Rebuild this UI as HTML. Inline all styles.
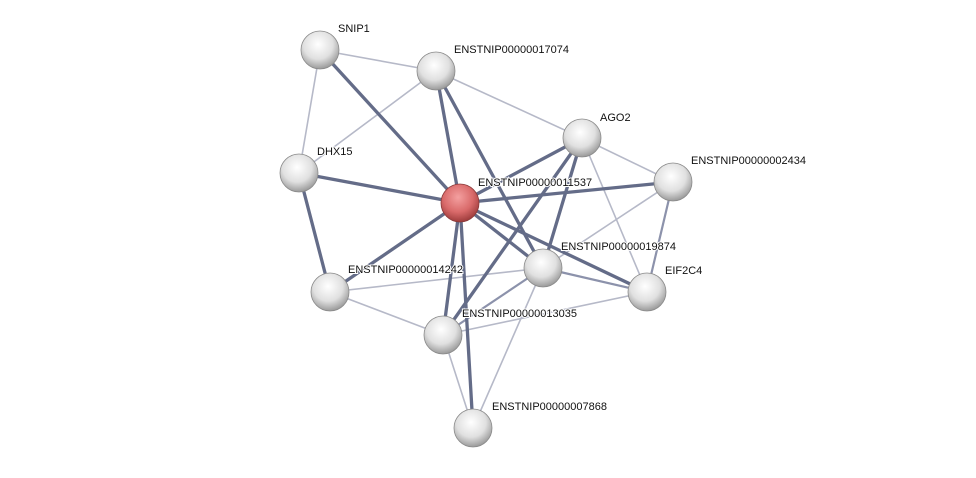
<!DOCTYPE html>
<html><head><meta charset="utf-8"><style>
html,body{margin:0;padding:0;background:#fff;}
svg text{font-family:"Liberation Sans",sans-serif;font-size:11px;fill:#111;paint-order:stroke;stroke:#fff;stroke-width:2px;}
</style></head><body>
<svg width="976" height="473" viewBox="0 0 976 473" xmlns="http://www.w3.org/2000/svg">
<defs>
<radialGradient id="g" cx="45%" cy="35%" r="65%">
<stop offset="0" stop-color="#ffffff"/><stop offset="0.6" stop-color="#e0e0e0"/><stop offset="1" stop-color="#9a9a9a"/>
</radialGradient>
<radialGradient id="r" cx="45%" cy="35%" r="65%">
<stop offset="0" stop-color="#f4a0a0"/><stop offset="0.6" stop-color="#d96a6a"/><stop offset="1" stop-color="#9e3c3c"/>
</radialGradient>
</defs>
<g stroke-linecap="round">
<g stroke="#b6b9c8" stroke-width="1.6">
<line x1="320" y1="50" x2="436" y2="71"/>
<line x1="320" y1="50" x2="299" y2="173"/>
<line x1="299" y1="173" x2="436" y2="71"/>
<line x1="436" y1="71" x2="582" y2="138"/>
<line x1="582" y1="138" x2="673" y2="182"/>
<line x1="582" y1="138" x2="647" y2="292"/>
<line x1="673" y1="182" x2="543" y2="268"/>
<line x1="330" y1="292" x2="543" y2="268"/>
<line x1="330" y1="292" x2="443" y2="335"/>
<line x1="443" y1="335" x2="647" y2="292"/>
<line x1="543" y1="268" x2="473" y2="428"/>
<line x1="443" y1="335" x2="473" y2="428"/>
</g>
<g stroke="#8c92ab" stroke-width="2.2">
<line x1="543" y1="268" x2="647" y2="292"/>
<line x1="543" y1="268" x2="443" y2="335"/>
<line x1="673" y1="182" x2="647" y2="292"/>
</g>
<g stroke="#646c88" stroke-width="3.3">
<line x1="320" y1="50" x2="460" y2="203"/>
<line x1="299" y1="173" x2="460" y2="203"/>
<line x1="436" y1="71" x2="460" y2="203"/>
<line x1="330" y1="292" x2="460" y2="203"/>
<line x1="443" y1="335" x2="460" y2="203"/>
<line x1="473" y1="428" x2="460" y2="203"/>
<line x1="543" y1="268" x2="460" y2="203"/>
<line x1="647" y1="292" x2="460" y2="203"/>
<line x1="582" y1="138" x2="460" y2="203"/>
<line x1="673" y1="182" x2="460" y2="203"/>
<line x1="436" y1="71" x2="543" y2="268"/>
<line x1="582" y1="138" x2="543" y2="268"/>
<line x1="582" y1="138" x2="443" y2="335"/>
<line x1="299" y1="173" x2="330" y2="292"/>
</g>
</g>
<g stroke="#8a8a8a" stroke-width="0.8">
<circle cx="320" cy="50" r="19" fill="url(#g)"/>
<circle cx="436" cy="71" r="19" fill="url(#g)"/>
<circle cx="582" cy="138" r="19" fill="url(#g)"/>
<circle cx="673" cy="182" r="19" fill="url(#g)"/>
<circle cx="299" cy="173" r="19" fill="url(#g)"/>
<circle cx="543" cy="268" r="19" fill="url(#g)"/>
<circle cx="647" cy="292" r="19" fill="url(#g)"/>
<circle cx="330" cy="292" r="19" fill="url(#g)"/>
<circle cx="443" cy="335" r="19" fill="url(#g)"/>
<circle cx="473" cy="428" r="19" fill="url(#g)"/>
<circle cx="460" cy="203" r="19" fill="url(#r)" stroke="#8a3a3a"/>
</g>
<text x="338" y="32">SNIP1</text>
<text x="454" y="53">ENSTNIP00000017074</text>
<text x="600" y="121">AGO2</text>
<text x="691" y="164">ENSTNIP00000002434</text>
<text x="317" y="155">DHX15</text>
<text x="478" y="186">ENSTNIP00000011537</text>
<text x="561" y="250">ENSTNIP00000019874</text>
<text x="665" y="274">EIF2C4</text>
<text x="348" y="273">ENSTNIP00000014242</text>
<text x="462" y="317">ENSTNIP00000013035</text>
<text x="492" y="410">ENSTNIP00000007868</text>
</svg>
</body></html>
